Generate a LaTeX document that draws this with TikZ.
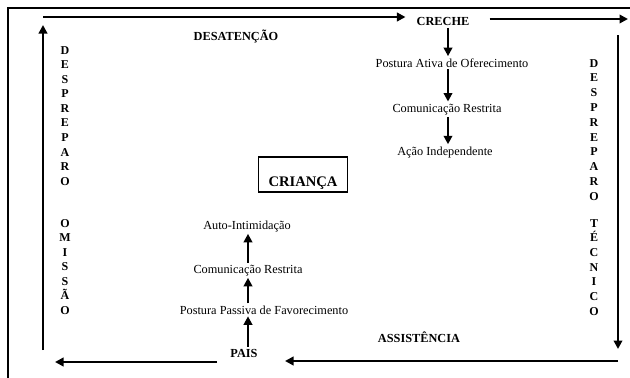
\documentclass[tikz,border=0pt]{standalone}
\usepackage{fontspec}
\setmainfont{Liberation Serif}
\usetikzlibrary{arrows.meta}
\begin{document}
\begin{tikzpicture}[x=1pt,y=-1pt,
  arr/.style={line width=2.3pt,-{Triangle[length=8.5pt,width=8.5pt]}},
  frameline/.style={line width=1.4pt},
  lbl/.style={anchor=base,inner xsep=1pt,inner ysep=2pt,font=\fontsize{12.3}{14}\selectfont},
  blbl/.style={lbl,font=\fontsize{12.3}{14}\selectfont\bfseries},
  vl/.style={inner sep=0pt,text height=8.2pt,text depth=0pt,font=\fontsize{12}{14}\selectfont\bfseries},
]
\useasboundingbox (0,0) rectangle (630,378);
% outer frame
\draw[frameline] (8,378) -- (8,8) -- (630,8);

% text nodes
\node[blbl] (creche) at (443,25.5) {CRECHE};
\node[lbl] (pao) at (452,67) {Postura Ativa de Oferecimento};
\node[lbl] (cr1) at (447,112) {Comunicação Restrita};
\node[lbl] (acao) at (445,155) {Ação Independente};

\node[blbl] (desat) at (236,40) {DESATENÇÃO};
\node[blbl] (assist) at (419,342) {ASSISTÊNCIA};

\node[draw,line width=1.6pt,anchor=base,inner xsep=0pt,inner ysep=0pt,
      minimum width=89pt,text height=29pt,text depth=6pt,
      font=\fontsize{14.6}{16}\selectfont\bfseries] (crianca) at (303,186) {CRIANÇA};

\node[lbl] (auto) at (247,229) {Auto-Intimidação};
\node[lbl] (cr2) at (248,273) {Comunicação Restrita};
\node[lbl] (ppf) at (264,314) {Postura Passiva de Favorecimento};
\node[blbl] (pais) at (244,357) {PAIS};

% vertical letter columns
\foreach \ch [count=\i] in {D,E,S,P,R,E,P,A,R,O}
  \node[vl] (lt\i) at (65,{50+14.56*(\i-1)}) {\ch};
\foreach \ch [count=\i] in {O,M,I,S,S,Ã,O}
  \node[vl] (lb\i) at (65,{223+14.5*(\i-1)}) {\ch};
\foreach \ch [count=\i] in {D,E,S,P,R,E,P,A,R,O}
  \node[vl] (rt\i) at (594,{63+14.78*(\i-1)}) {\ch};
\foreach \ch [count=\i] in {T,É,C,N,I,C,O}
  \node[vl] (rb\i) at (594,{223+14.67*(\i-1)}) {\ch};

% cycle coordinates
\coordinate (tl) at (43,17);
\coordinate (tr) at (628,19);
\coordinate (rtop) at (618,35);
\coordinate (rbot) at (618,349);
\coordinate (brr) at (618,361);
\coordinate (brl) at (285,361);
\coordinate (blr) at (217,362);
\coordinate (bll) at (55,362);
\coordinate (lbot) at (43,350);
\coordinate (ltop) at (43,25);

% outer cycle arrows
\draw[arr, shorten >=10pt] (tl) -- (creche.west |- tl);
\draw[arr, shorten <=19pt] (creche.east |- tr) -- (tr);
\draw[arr] (rtop) -- (rbot);
\draw[arr] (brr) -- (brl);
\draw[arr] (blr) -- (bll);
\draw[arr] (lbot) -- (ltop);

% inner chains
\draw[arr] (creche.south -| 448,0) -- (pao.north -| 448,0);
\draw[arr] (pao.south -| 448,0) -- (cr1.north -| 448,0);
\draw[arr] (cr1.south -| 448,0) -- (acao.north -| 448,0);

\draw[arr] (pais.north -| 248,0) -- (ppf.south -| 248,0);
\draw[arr] (ppf.north -| 248,0) -- (cr2.south -| 248,0);
\draw[arr] (cr2.north -| 248,0) -- (auto.south -| 248,0);
\end{tikzpicture}
\end{document}
